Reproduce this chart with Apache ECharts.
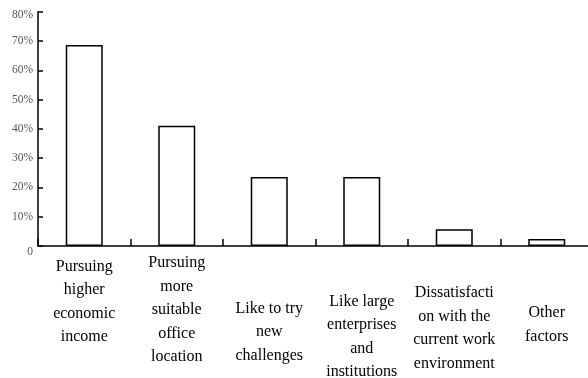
<!DOCTYPE html>
<html>
<head>
<meta charset="utf-8">
<script src="https://cdn.jsdelivr.net/npm/echarts@6/dist/echarts.min.js"></script>
<style>
  html, body { margin: 0; padding: 0; background: #fff; }
  #main { width: 588px; height: 378px; }
</style>
</head>
<body>
<div id="main"></div>
<script>
  // categories and values
  var categories = [
    'Pursuing\nhigher\neconomic\nincome',
    'Pursuing\nmore\nsuitable\noffice\nlocation',
    'Like to try\nnew\nchallenges',
    'Like large\nenterprises\nand\ninstitutions',
    'Dissatisfacti\non with the\ncurrent work\nenvironment',
    'Other\nfactors'
  ];
  var shares = [68.6, 41.1, 23.6, 23.6, 5.7, 2.4];

  // label drop below the axis for each category (layout only)
  var labelDrop = [9, 5.5, 51, 44, 35.5, 55.5];

  var myChart = echarts.init(document.getElementById('main'));

  var catData = categories.map(function (c, i) {
    return { value: c, textStyle: { padding: [labelDrop[i], 0, 0, 0] } };
  });

  var option = {
    animation: false,
    grid: {
      left: 38,
      top: 11.7,
      width: 555,
      bottom: 132,
      outerBoundsMode: 'none',
      containLabel: false
    },
    xAxis: {
      type: 'category',
      data: catData,
      axisLine: { lineStyle: { color: '#000', width: 1.5 } },
      axisTick: {
        show: true,
        interval: 0,
        alignWithLabel: false,
        inside: true,
        length: 7,
        lineStyle: { color: '#000', width: 1.5 }
      },
      axisLabel: {
        interval: 0,
        margin: 0,
        color: '#000',
        fontFamily: 'Liberation Serif',
        fontSize: 16,
        lineHeight: 23.5
      }
    },
    yAxis: {
      type: 'value',
      min: 0,
      max: 80,
      interval: 10,
      splitLine: { show: false },
      axisLine: { show: true, lineStyle: { color: '#000', width: 1.5 } },
      axisTick: { show: true, inside: true, length: 5, lineStyle: { color: '#000', width: 1.5 } },
      axisLabel: {
        margin: 5,
        color: '#555',
        fontFamily: 'Liberation Serif',
        fontSize: 11.5,
        formatter: function (v) {
          if (v === 0) return '{z|0}';
          if (v === 80) return '{t|80%}';
          return v + '%';
        },
        rich: {
          z: { padding: [12, 0, 0, 0], fontFamily: 'Liberation Serif', fontSize: 11.5, color: '#555' },
          t: { padding: [6, 0, 0, 0], fontFamily: 'Liberation Serif', fontSize: 11.5, color: '#555' }
        }
      }
    },
    series: [
      {
        type: 'bar',
        data: shares,
        barWidth: 37,
        itemStyle: {
          color: '#fff',
          borderColor: '#000',
          borderWidth: 1.5
        }
      }
    ]
  };

  myChart.setOption(option);
</script>
</body>
</html>
